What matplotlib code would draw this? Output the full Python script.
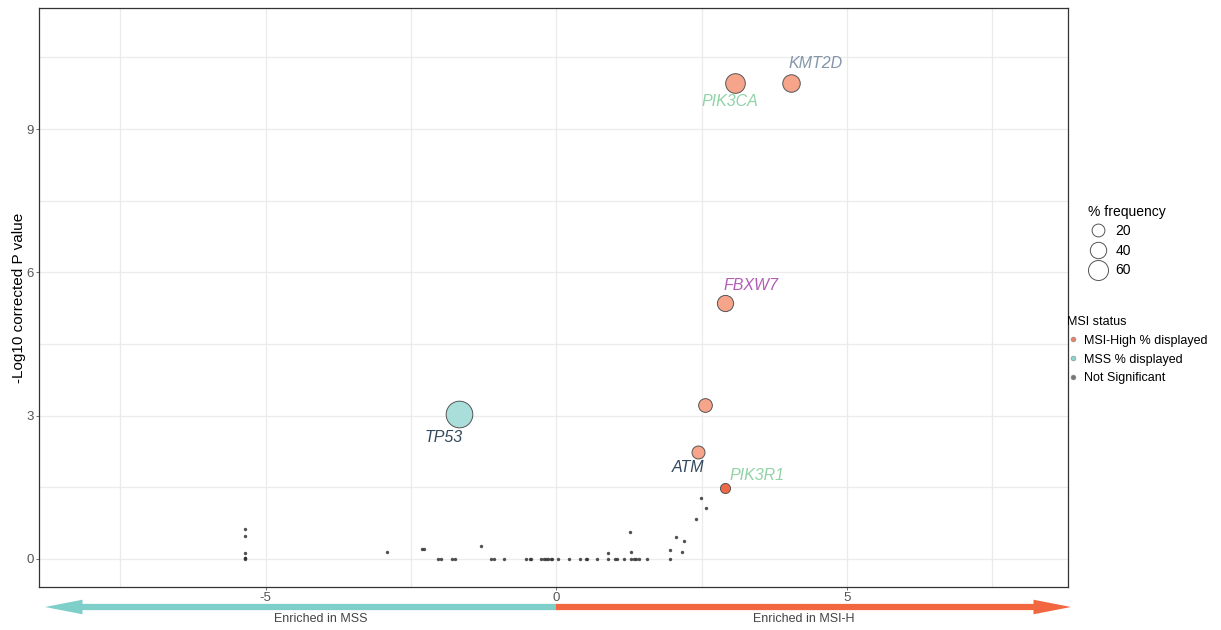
import numpy as np
from matplotlib import pyplot as plt
from matplotlib.lines import Line2D
from matplotlib.patches import FancyArrowPatch

plt.rcParams['font.family'] = ['Liberation Sans', 'DejaVu Sans']
plt.rcParams['axes.unicode_minus'] = False

# significant genes
genes = ['KMT2D', 'PIK3CA', 'FBXW7', '', 'ATM', 'PIK3R1', 'TP53']
gene_x = [4.04, 3.08, 2.90, 2.56, 2.44, 2.90, -1.68]
gene_y = [9.96, 9.96, 5.36, 3.22, 2.24, 1.49, 3.03]
gene_freq = [46, 58, 39, 25, 21, 5, 97]
gene_status = ['MSI-High', 'MSI-High', 'MSI-High', 'MSI-High', 'MSI-High',
               'MSI-High dark', 'MSS']

# not significant genes
ns_x = [-5.36, -5.36, -5.36, -5.36, -5.36, -5.36, -2.92, -2.32, -2.27, -2.04,
        -1.98, -1.80, -1.74, -1.30, -1.13, -1.07, -0.91, -0.53, -0.46, -0.43,
        -0.26, -0.22, -0.18, -0.14, -0.10, -0.07, 0.03, 0.21, 0.41, 0.50,
        0.53, 0.69, 0.88, 0.88, 1.00, 1.04, 1.16, 1.27, 1.29, 1.29, 1.33,
        1.37, 1.42, 1.56, 1.95, 1.96, 2.05, 2.16, 2.20, 2.40, 2.48, 2.58]
ns_y = [0.63, 0.48, 0.13, 0.0, 0.01, 0.02, 0.14, 0.21, 0.21, 0.0,
        0.0, 0.0, 0.0, 0.26, 0.0, 0.0, 0.0, 0.0, 0.0, 0.0,
        0.0, 0.0, 0.0, 0.0, 0.0, 0.0, 0.0, 0.0, 0.0, 0.0,
        0.0, 0.0, 0.0, 0.13, 0.0, 0.0, 0.0, 0.56, 0.15, 0.0, 0.0,
        0.0, 0.0, 0.0, 0.19, 0.0, 0.46, 0.15, 0.37, 0.84, 1.28, 1.06]

legend_freq = [20, 40, 60]
status_labels = ['MSI-High % displayed', 'MSS % displayed', 'Not Significant']

face = {'MSI-High': '#F6A48A', 'MSI-High dark': '#EE6A46', 'MSS': '#A9DEDB'}
label_color = {'KMT2D': '#8496A9', 'PIK3CA': '#8FD3A6', 'FBXW7': '#B25DB7',
               'ATM': '#34495E', 'PIK3R1': '#8FD3A6', 'TP53': '#34495E'}
label_offset = {'KMT2D': (24, 20), 'PIK3CA': (-6, -18), 'FBXW7': (26, 17),
                'ATM': (-10, -16), 'PIK3R1': (32, 12), 'TP53': (-15, -23)}

W, H = 1221, 630


def diam_pt(freq):
    # bubble diameter in points
    return (9.2 + 0.18 * freq) * 0.72


def fx(px):
    return px / W


def fy(py):
    return 1 - py / H


fig = plt.figure(figsize=(W / 100, H / 100), dpi=100)
ax = fig.add_axes([0.032, 0.0683, 0.8427, 0.9187])

ax.set_xlim(-8.9, 8.8)
ax.set_ylim(-0.59, 11.53)
ax.set_xticks([-5, 0, 5])
ax.set_yticks([0, 3, 6, 9])
ax.set_xticks([-7.5, -2.5, 2.5, 7.5], minor=True)
ax.set_yticks([1.5, 4.5, 7.5, 10.5], minor=True)
ax.grid(True, which='both', color='#EBEBEB', lw=0.9)
ax.set_axisbelow(True)
ax.tick_params(which='minor', length=0)
ax.tick_params(which='major', length=2.5, width=0.6, color='#555555',
               labelsize=9.5, labelcolor='#555555', pad=1)
for sp in ax.spines.values():
    sp.set_color('#333333')
    sp.set_linewidth(0.9)

ax.set_ylabel('-Log10 corrected P value', fontsize=11)
ax.yaxis.set_label_coords(-0.013, 0.5)

ax.scatter(ns_x, ns_y, s=6, color='#333333', alpha=0.85, lw=0, zorder=3)

for name, x, y, f, st in zip(genes, gene_x, gene_y, gene_freq, gene_status):
    ax.scatter([x], [y], s=diam_pt(f) ** 2, color=face[st],
               edgecolor='#555555', lw=0.7, zorder=4)
    if name:
        ax.annotate(name, (x, y), xytext=label_offset[name],
                    textcoords='offset pixels', ha='center', va='center',
                    fontsize=11.5, style='italic', color=label_color[name])

# direction arrows below the axis
arrow_style = 'simple,head_width=1.05,head_length=2.7,tail_width=0.45'
for tip, col in [(45, '#7ECECA'), (1071, '#F2673F')]:
    fig.add_artist(FancyArrowPatch((fx(556), fy(607)), (fx(tip), fy(607)),
                                   transform=fig.transFigure,
                                   arrowstyle=arrow_style, mutation_scale=10,
                                   color=col, lw=0, shrinkA=0, shrinkB=0))

for txt, xc in [('Enriched in MSS', 321), ('Enriched in MSI-H', 804)]:
    fig.text(fx(xc), fy(619), txt, ha='center', va='center',
             fontsize=9, color='#444444')

# legends
size_handles = [Line2D([], [], marker='o', ls='', markerfacecolor='white',
                       markeredgecolor='#555555', markeredgewidth=0.7,
                       markersize=diam_pt(f)) for f in legend_freq]
leg1 = fig.legend(size_handles, [str(f) for f in legend_freq],
                  title='% frequency', loc='upper left',
                  bbox_to_anchor=(fx(1078), fy(195)), frameon=False,
                  fontsize=10, title_fontsize=10, handletextpad=0.5,
                  labelspacing=0.4, borderpad=0.2, handlelength=1.5,
                  alignment='left')

status_colors = ['#E8806A', '#8FD3CE', '#777777']
status_handles = [Line2D([], [], marker='o', ls='', markerfacecolor=c,
                         markeredgecolor='#888888', markeredgewidth=0.4,
                         markersize=3.5) for c in status_colors]
leg2 = fig.legend(status_handles, status_labels, title='MSI status',
                  loc='upper left', bbox_to_anchor=(fx(1058), fy(307)),
                  frameon=False, fontsize=9, title_fontsize=9,
                  handletextpad=0.35, labelspacing=0.55, borderpad=0.2,
                  handlelength=1.0, alignment='left')

fig.savefig('out.png', dpi=100)
